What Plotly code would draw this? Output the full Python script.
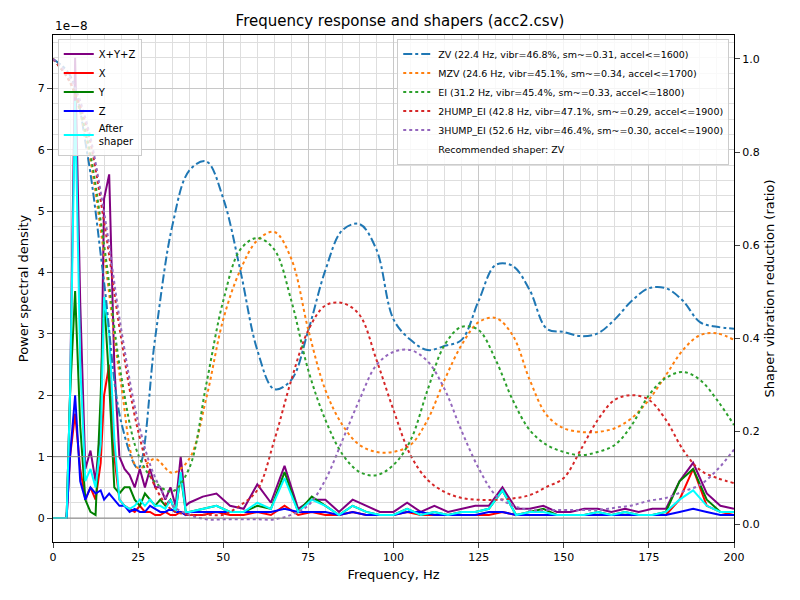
import plotly.graph_objects as go

freq = [0,2,4,5,6.5,8,9.5,11,12.5,14,15,16.5,18,19.5,21,22.5,24,25.5,27,28.5,30,31.5,33,34.5,36,37.5,39] + list(range(40, 201, 4))

psd_xyz = [0,0,0,2.0,7.5,3.5,0.8,1.1,0.6,1.5,5.2,5.6,2.5,1.0,0.8,0.7,0.5,0.8,0.5,0.8,0.5,0.5,0.3,0.5,0.2,1.0,0.2,
           0.25,0.35,0.4,0.2,0.15,0.55,0.25,0.85,0.15,0.3,0.3,0.1,0.3,0.2,0.1,0.1,0.25,0.1,0.2,0.1,0.15,0.2,0.2,0.5,0.15,0.15,0.2,0.1,0.1,0.15,0.15,0.1,0.15,0.1,0.15,0.15,0.6,0.9,0.4,0.2,0.15]
psd_x = [0,0,0,1.0,1.7,0.8,0.3,0.5,0.3,0.9,2.0,2.5,1.0,0.3,0.2,0.15,0.1,0.2,0.1,0.1,0.05,0.05,0.1,0.05,0.05,0.1,0.05,
         0.05,0.05,0.1,0.05,0.05,0.1,0.05,0.2,0.05,0.1,0.05,0.05,0.1,0.05,0.05,0.05,0.1,0.05,0.05,0.05,0.05,0.05,0.05,0.1,0.05,0.05,0.05,0.05,0.05,0.05,0.05,0.05,0.05,0.05,0.05,0.05,0.3,0.8,0.2,0.1,0.05]
psd_y = [0,0,0,2.0,3.7,1.5,0.3,0.1,0.05,2.0,3.6,2.2,0.5,0.4,0.5,0.5,0.3,0.2,0.4,0.3,0.2,0.3,0.2,0.3,0.1,0.7,0.1,
         0.1,0.15,0.2,0.1,0.1,0.2,0.15,0.75,0.1,0.35,0.2,0.05,0.2,0.1,0.05,0.05,0.15,0.05,0.1,0.05,0.1,0.1,0.15,0.45,0.05,0.1,0.15,0.05,0.05,0.05,0.1,0.05,0.1,0.05,0.05,0.1,0.6,0.8,0.3,0.1,0.1]
psd_z = [0,0,0,1.0,2.0,0.6,0.3,0.5,0.4,0.45,0.3,0.4,0.3,0.2,0.2,0.1,0.15,0.1,0.1,0.2,0.15,0.1,0.1,0.15,0.1,0.1,0.05,
         0.1,0.1,0.1,0.1,0.1,0.1,0.1,0.15,0.1,0.1,0.1,0.05,0.1,0.05,0.05,0.05,0.1,0.1,0.05,0.05,0.05,0.05,0.1,0.1,0.05,0.05,0.05,0.05,0.05,0.05,0.05,0.05,0.05,0.05,0.05,0.05,0.1,0.15,0.1,0.05,0.05]
psd_after = [0,0,0,2.0,6.8,2.5,0.6,0.8,0.5,1.2,3.6,3.0,1.3,0.3,0.2,0.15,0.2,0.3,0.2,0.3,0.2,0.2,0.15,0.3,0.1,0.75,0.1,
             0.1,0.15,0.2,0.1,0.1,0.25,0.15,0.65,0.1,0.3,0.2,0.05,0.2,0.1,0.05,0.05,0.15,0.05,0.1,0.05,0.1,0.1,0.15,0.45,0.05,0.1,0.1,0.05,0.05,0.05,0.1,0.05,0.1,0.05,0.05,0.1,0.3,0.45,0.2,0.1,0.1]

shaper_freq = list(range(0, 201, 5))
zv = [1.0,0.965,0.80,0.52,0.22,0.12,0.40,0.64,0.76,0.78,0.70,0.546,0.374,0.29,0.31,0.417,0.546,0.632,0.645,0.59,0.44,0.396,0.374,0.383,0.396,0.48,0.557,0.555,0.503,0.42,0.413,0.404,0.41,0.44,0.48,0.507,0.507,0.48,0.434,0.424,0.42]
mzv = [1.0,0.95,0.82,0.58,0.30,0.12,0.14,0.11,0.14,0.27,0.44,0.546,0.61,0.628,0.57,0.417,0.288,0.213,0.17,0.155,0.155,0.17,0.224,0.31,0.385,0.434,0.443,0.406,0.31,0.234,0.206,0.198,0.198,0.206,0.228,0.267,0.32,0.374,0.406,0.41,0.396]
ei = [1.0,0.95,0.83,0.60,0.32,0.15,0.09,0.07,0.12,0.30,0.48,0.59,0.615,0.59,0.48,0.33,0.224,0.15,0.112,0.105,0.127,0.18,0.288,0.385,0.424,0.417,0.353,0.267,0.202,0.17,0.155,0.148,0.155,0.17,0.213,0.277,0.314,0.327,0.31,0.267,0.213]
hump2 = [1.0,0.95,0.85,0.65,0.40,0.20,0.08,0.03,0.02,0.02,0.02,0.04,0.073,0.18,0.31,0.417,0.47,0.475,0.45,0.353,0.245,0.148,0.095,0.069,0.056,0.052,0.052,0.055,0.062,0.08,0.099,0.16,0.224,0.267,0.277,0.267,0.224,0.16,0.116,0.099,0.088]
hump3 = [1.0,0.96,0.86,0.67,0.42,0.22,0.10,0.04,0.02,0.01,0.01,0.01,0.01,0.01,0.02,0.04,0.095,0.18,0.267,0.342,0.37,0.374,0.35,0.29,0.2,0.12,0.062,0.04,0.03,0.03,0.03,0.03,0.03,0.035,0.04,0.05,0.056,0.07,0.084,0.116,0.16]

psd_series = [("X+Y+Z", psd_xyz, "purple"), ("X", psd_x, "red"), ("Y", psd_y, "green"),
              ("Z", psd_z, "blue"), ("After<br>shaper", psd_after, "cyan")]
shaper_series = [("ZV (22.4 Hz, vibr=46.8%, sm~=0.31, accel<=1600)", zv, "#1f77b4", "dashdot"),
                 ("MZV (24.6 Hz, vibr=45.1%, sm~=0.34, accel<=1700)", mzv, "#ff7f0e", "dot"),
                 ("EI (31.2 Hz, vibr=45.4%, sm~=0.33, accel<=1800)", ei, "#2ca02c", "dot"),
                 ("2HUMP_EI (42.8 Hz, vibr=47.1%, sm~=0.29, accel<=1900)", hump2, "#d62728", "dot"),
                 ("3HUMP_EI (52.6 Hz, vibr=46.4%, sm~=0.30, accel<=1900)", hump3, "#9467bd", "dot")]

fig = go.Figure()
for name, vals, col, dash in shaper_series:
    fig.add_trace(go.Scatter(x=shaper_freq, y=vals, name=name, yaxis="y2", legend="legend2",
                             mode="lines", line=dict(color=col, dash=dash, width=2, shape="spline", smoothing=1.0)))
fig.add_trace(go.Scatter(x=[None], y=[None], name="Recommended shaper: ZV", yaxis="y2", legend="legend2",
                         mode="lines", line=dict(color="rgba(0,0,0,0)")))
for name, vals, col in psd_series:
    fig.add_trace(go.Scatter(x=freq, y=[v * 1e-8 for v in vals], name=name, mode="lines",
                             line=dict(color=col, width=2)))

grid = dict(showgrid=True, gridcolor="#c8c8c8", gridwidth=1)
tf = dict(size=11)
fig.update_layout(
    width=800, height=600, template="plotly_white", plot_bgcolor="white",
    font=dict(family="DejaVu Sans", size=12, color="black"),
    margin=dict(l=53, r=66, t=35, b=58),
    title=dict(text="Frequency response and shapers (acc2.csv)", x=0.5, xanchor="center", y=0.975, font=dict(size=15)),
    xaxis=dict(range=[0, 200], title=dict(text="Frequency, Hz", standoff=6, font=dict(size=13)), dtick=25, ticks="outside",
               tickfont=tf, automargin=False,
               showline=True, linecolor="black", mirror=True, zeroline=False,
               minor=dict(dtick=5, showgrid=True, gridcolor="#dedede"), **grid),
    yaxis=dict(range=[-0.39e-8, 7.87e-8], title=dict(text="Power spectral density", standoff=6, font=dict(size=13)),
               tickvals=[i * 1e-8 for i in range(8)], ticktext=[str(i) for i in range(8)], ticks="outside",
               tickfont=tf, automargin=False,
               showline=True, linecolor="black", zeroline=False,
               minor=dict(tickvals=[i * 0.25e-8 for i in range(32)], showgrid=True, gridcolor="#dedede"), **grid),
    yaxis2=dict(range=[-0.0387, 1.0516], overlaying="y", side="right", tickvals=[0, 0.2, 0.4, 0.6, 0.8, 1.0],
                tickformat=".1f", ticks="outside", showgrid=False, zeroline=False, showline=True, linecolor="black",
                tickfont=tf, automargin=False,
                title=dict(text="Shaper vibration reduction (ratio)", standoff=6, font=dict(size=13))),
    legend=dict(x=0.007, y=0.993, xanchor="left", yanchor="top", font=dict(size=10), bgcolor="rgba(255,255,255,0.8)",
                bordercolor="#cccccc", borderwidth=1, tracegroupgap=0, itemwidth=30),
    legend2=dict(x=0.993, y=0.993, xanchor="right", yanchor="top", font=dict(size=9.5), bgcolor="rgba(255,255,255,0.8)",
                 bordercolor="#cccccc", borderwidth=1, itemwidth=30),
    shapes=[dict(type="line", xref="paper", x0=0, x1=1, yref="y", y0=1e-8, y1=1e-8, line=dict(color="#888", width=1)),
            dict(type="line", xref="paper", x0=0, x1=1, yref="y", y0=0, y1=0, line=dict(color="#888", width=1))],
    annotations=[dict(text="1e−8", xref="paper", yref="paper", x=0, y=1.0, xanchor="left", yanchor="bottom",
                      showarrow=False, font=dict(size=12))],
)
fig.write_html("out.html", config={"displayModeBar": False}, post_script="document.body.style.margin='0';")
